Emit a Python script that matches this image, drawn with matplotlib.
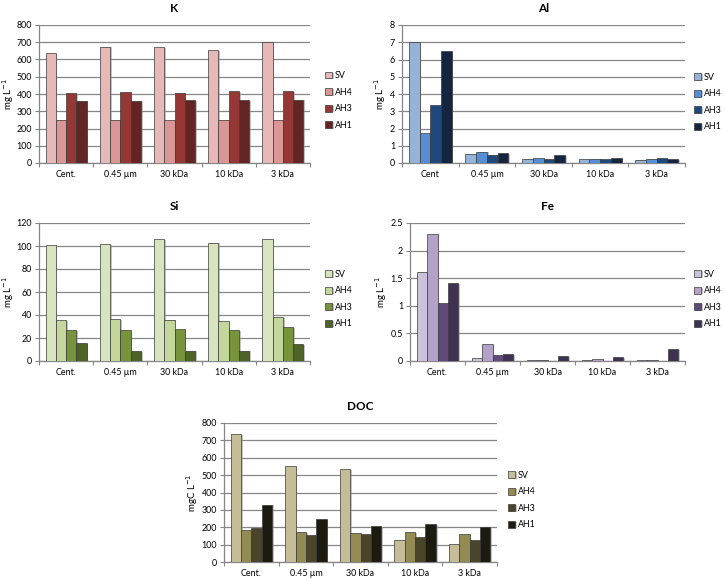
import matplotlib
matplotlib.use("Agg")
import matplotlib.pyplot as plt
import matplotlib.patheffects as pe
import numpy as np

plt.rcParams['font.family'] = ['Lato', 'DejaVu Sans']

series = ["SV", "AH4", "AH3", "AH1"]
cats = ["Cent.", "0.45 µm", "30 kDa", "10 kDa", "3 kDa"]
cats_al = ["Cent", "0.45 µm", "30 kDa", "10 kDa", "3 kDa"]

k_sv = [635, 675, 670, 655, 700]
k_ah4 = [252, 252, 250, 252, 252]
k_ah3 = [407, 410, 408, 415, 415]
k_ah1 = [362, 362, 365, 365, 368]

al_sv = [7.0, 0.55, 0.26, 0.25, 0.20]
al_ah4 = [1.72, 0.66, 0.28, 0.26, 0.26]
al_ah3 = [3.35, 0.49, 0.24, 0.24, 0.30]
al_ah1 = [6.5, 0.56, 0.46, 0.29, 0.25]

si_sv = [101, 102, 106, 103, 106]
si_ah4 = [35.5, 36.5, 36, 35, 38.5]
si_ah3 = [27, 27, 27.5, 27, 29.5]
si_ah1 = [15.5, 8.5, 9, 9, 14.5]

fe_sv = [1.62, 0.06, 0.02, 0.02, 0.015]
fe_ah4 = [2.3, 0.31, 0.025, 0.03, 0.02]
fe_ah3 = [1.05, 0.1, 0.005, 0.005, 0.005]
fe_ah1 = [1.41, 0.12, 0.085, 0.075, 0.21]

doc_sv = [735, 553, 533, 125, 103]
doc_ah4 = [183, 173, 168, 172, 160]
doc_ah3 = [197, 155, 163, 143, 125]
doc_ah1 = [330, 245, 205, 220, 203]

W, H = 725, 579
fig = plt.figure(figsize=(W / 100, H / 100), dpi=100)


def px_axes(left, right, top, bottom):
    return fig.add_axes([left / W, 1 - bottom / H, (right - left) / W, (bottom - top) / H])


panels = [
    dict(title="K", data=[k_sv, k_ah4, k_ah3, k_ah1], cats=cats, ylim=800, step=100,
         colors=["#E6B9B8", "#D99694", "#953735", "#632523"],
         box=(39, 310, 25, 163), ylabel="mg L$^{-1}$", ylx=8, leg=(325, 100.5), fmt="{:.0f}"),
    dict(title="Al", data=[al_sv, al_ah4, al_ah3, al_ah1], cats=cats_al, ylim=8, step=1,
         colors=["#95B3D7", "#558ED5", "#1F497D", "#14253F"],
         box=(402, 685, 25, 163), ylabel="mg L$^{-1}$", ylx=380, leg=(694, 102), fmt="{:.0f}"),
    dict(title="Si", data=[si_sv, si_ah4, si_ah3, si_ah1], cats=cats, ylim=120, step=20,
         colors=["#D7E4BD", "#C3D69B", "#77933C", "#4F6228"],
         box=(39, 310, 223, 361), ylabel="mg L$^{-1}$", ylx=8, leg=(325, 299), fmt="{:.0f}"),
    dict(title="Fe", data=[fe_sv, fe_ah4, fe_ah3, fe_ah1], cats=cats, ylim=2.5, step=0.5,
         colors=["#CCC1DA", "#B3A2C7", "#604A7B", "#3F3151"],
         box=(410, 685, 223, 361), ylabel="mg L$^{-1}$", ylx=381, leg=(694, 299), fmt="{:g}"),
    dict(title="DOC", data=[doc_sv, doc_ah4, doc_ah3, doc_ah1], cats=cats, ylim=800, step=100,
         colors=["#C4BD97", "#948A54", "#4A452A", "#1D1B10"],
         box=(224, 497, 423, 562), ylabel="mgC L$^{-1}$", ylx=192, leg=(508, 500), fmt="{:.0f}"),
]

fs = 6.4
grid_c = "#868686"

for p in panels:
    l, r, t, b = p["box"]
    ax = px_axes(l, r, t, b)
    n = len(p["cats"])
    x = np.arange(n)
    bw = 0.19
    offs = (np.arange(4) - 1.5) * bw
    handles = []
    for i, (vals, c) in enumerate(zip(p["data"], p["colors"])):
        bars = ax.bar(x + offs[i], vals, width=bw, color=c, edgecolor="#3a3a3a",
                      linewidth=0.5, zorder=3, label=series[i],
                      path_effects=[pe.SimplePatchShadow(offset=(1.2, -0.6), shadow_rgbFace="#9a9a9a", alpha=0.6),
                                    pe.Normal()])
        handles.append(bars)
    ax.set_xlim(-0.5, n - 0.5)
    ax.set_ylim(0, p["ylim"])
    yt = np.arange(0, p["ylim"] + p["step"] / 2, p["step"])
    ax.set_yticks(yt)
    ax.set_yticklabels([p["fmt"].format(v) for v in yt], fontsize=fs)
    ax.yaxis.grid(True, color=grid_c, linewidth=0.9, zorder=0)
    ax.set_axisbelow(True)
    ax.set_xticks(np.arange(-0.5, n, 1.0))
    ax.set_xticklabels([])
    ax.set_xticks(x, minor=True)
    ax.set_xticklabels(p["cats"], minor=True, fontsize=fs)
    ax.tick_params(axis="x", which="minor", length=0, pad=5)
    ax.tick_params(axis="x", which="major", length=3, color=grid_c, width=0.8)
    ax.tick_params(axis="y", length=3, color=grid_c, width=0.8, pad=2)
    for s in ["top", "right"]:
        ax.spines[s].set_visible(False)
    for s in ["left", "bottom"]:
        ax.spines[s].set_color(grid_c)
        ax.spines[s].set_linewidth(0.9)
    ax.set_title(p["title"], fontsize=8.5, fontweight="bold", pad=9)
    fig.text(p["ylx"] / W, 1 - ((t + b) / 2) / H, p["ylabel"], rotation=90,
             ha="center", va="center", fontsize=fs + 0.6)
    lx, ly = p["leg"]
    ax.legend(handles=handles, loc="center left", bbox_to_anchor=(lx / W, 1 - ly / H),
              bbox_transform=fig.transFigure, frameon=False, fontsize=fs,
              handlelength=0.8, handleheight=0.8, handletextpad=0.3, labelspacing=0.85,
              borderpad=0, borderaxespad=0)

fig.savefig("out.png", dpi=100)
